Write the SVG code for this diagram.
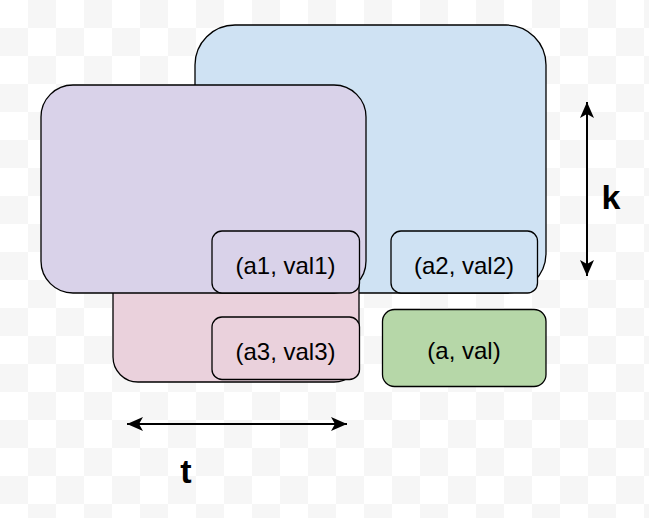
<svg xmlns="http://www.w3.org/2000/svg" width="649" height="518" viewBox="0 0 649 518">
  <defs>
    <pattern id="checker" x="0" y="0" width="56" height="56" patternUnits="userSpaceOnUse">
      <rect x="0" y="0" width="56" height="56" fill="#ffffff"/>
      <rect x="28" y="0" width="28" height="28" fill="#f6f6f6"/>
      <rect x="0" y="28" width="28" height="28" fill="#f6f6f6"/>
    </pattern>
    <marker id="arrow" viewBox="0 0 16 14" refX="16" refY="7" markerWidth="16" markerHeight="14" markerUnits="userSpaceOnUse" orient="auto-start-reverse">
      <path d="M0,0 L16,7 L0,14 L4,7 Z" fill="#000"/>
    </marker>
    <style>
      .box { stroke: #000; stroke-width: 1.3; }
      .blue { fill: #cfe2f3; }
      .purple { fill: #d9d2e9; }
      .pink { fill: #ead1dc; }
      .green { fill: #b6d7a8; }
      .label { font-family: "Liberation Sans", Arial, sans-serif; font-size: 24px; fill: #000; text-anchor: middle; }
      .dim { font-family: "Liberation Sans", Arial, sans-serif; font-size: 34px; font-weight: bold; fill: #000; text-anchor: middle; }
      .conn { stroke: #000; stroke-width: 2; fill: none; }
    </style>
  </defs>

  <rect x="0" y="0" width="649" height="518" fill="url(#checker)"/>

  <g id="set-blue">
    <rect class="box blue" x="195" y="25" width="351" height="268" rx="40" ry="40"/>
  </g>
  <g id="set-pink">
    <rect class="box pink" x="113" y="250" width="246" height="132" rx="25" ry="25"/>
  </g>
  <g id="set-purple">
    <rect class="box purple" x="41" y="85" width="325" height="208" rx="32" ry="32"/>
  </g>

  <g id="node-a1">
    <rect class="box purple" x="212" y="231" width="147.5" height="62" rx="10" ry="10"/>
    <text class="label" x="285.5" y="274">(a1, val1)</text>
  </g>
  <g id="node-a2">
    <rect class="box blue" x="391" y="231" width="146.5" height="62" rx="10" ry="10"/>
    <text class="label" x="464" y="274">(a2, val2)</text>
  </g>
  <g id="node-a3">
    <rect class="box pink" x="212" y="317" width="147.5" height="62.5" rx="10" ry="10"/>
    <text class="label" x="285.5" y="360">(a3, val3)</text>
  </g>
  <g id="node-a">
    <rect class="box green" x="382.5" y="309.5" width="163.5" height="77" rx="12" ry="12"/>
    <text class="label" x="464" y="359">(a, val)</text>
  </g>

  <g id="connectors">
    <path class="conn" d="M127,424 L347,424" marker-start="url(#arrow)" marker-end="url(#arrow)"/>
    <path class="conn" d="M587,102 L587,276" marker-start="url(#arrow)" marker-end="url(#arrow)"/>
  </g>

  <g id="label-t">
    <text class="dim" x="186" y="482.5">t</text>
  </g>
  <g id="label-k">
    <text class="dim" x="611" y="209">k</text>
  </g>
</svg>
